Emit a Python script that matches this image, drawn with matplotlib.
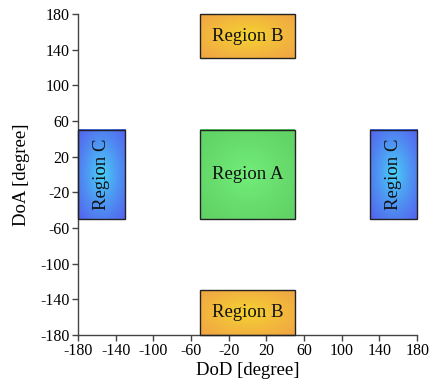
import numpy as np
import matplotlib
matplotlib.use("Agg")
import matplotlib.pyplot as plt
from matplotlib.colors import to_rgb

plt.rcParams['font.family'] = ['Liberation Serif', 'DejaVu Serif']
plt.rcParams['axes.unicode_minus'] = False

# Data
region_labels = ["Region A", "Region B", "Region B", "Region C", "Region C"]
x_min = [-50, -50, -50, -180, 130]
x_max = [50, 50, 50, -130, 180]
y_min = [-50, 130, -180, -50, -50]
y_max = [50, 180, -130, 50, 50]
ticks = list(range(-180, 181, 40))

# Styles
center_col = {"Region A": "#74f07c", "Region B": "#f6d830", "Region C": "#48d8f8"}
edge_col = {"Region A": "#60d064", "Region B": "#f0a444", "Region C": "#5460ee"}
rot = {"Region A": 0, "Region B": 0, "Region C": 90}

fig = plt.figure(figsize=(4.35, 3.85), dpi=100)
ax = fig.add_axes([0.179, 0.130, 0.780, 0.834])

for lab, x0, x1, y0, y1 in zip(region_labels, x_min, x_max, y_min, y_max):
    n = 200
    u = np.linspace(-1, 1, n)
    U, V = np.meshgrid(u, u)
    r = np.clip(np.sqrt(U**2 + V**2) / np.sqrt(2), 0, 1)
    c0 = np.array(to_rgb(center_col[lab]))
    c1 = np.array(to_rgb(edge_col[lab]))
    t = r[..., None] ** 0.8
    img = c0 * (1 - t) + c1 * t
    ax.imshow(img, extent=[x0, x1, y0, y1], origin="lower", aspect="auto", zorder=2)
    ax.add_patch(plt.Rectangle((x0, y0), x1 - x0, y1 - y0, fill=False,
                               edgecolor="#222222", linewidth=1.0, zorder=3, clip_on=False))
    ax.text((x0 + x1) / 2, (y0 + y1) / 2, lab, ha="center", va="center",
            fontsize=13.5, rotation=rot[lab], color="#111111", zorder=4)

ax.set_xlim(-180, 180)
ax.set_ylim(-180, 180)
ax.set_xticks(ticks)
ax.set_yticks(ticks)
ax.spines["top"].set_visible(False)
ax.spines["right"].set_visible(False)
for s in ["left", "bottom"]:
    ax.spines[s].set_color("#444444")
    ax.spines[s].set_linewidth(1.0)
ax.tick_params(direction="out", length=4, width=1, color="#444444", labelsize=11.5, pad=2)
ax.set_xlabel("DoD [degree]", fontsize=13.5, labelpad=2)
ax.set_ylabel("DoA [degree]", fontsize=13.5, labelpad=7)

fig.savefig("out.png", dpi=100)
